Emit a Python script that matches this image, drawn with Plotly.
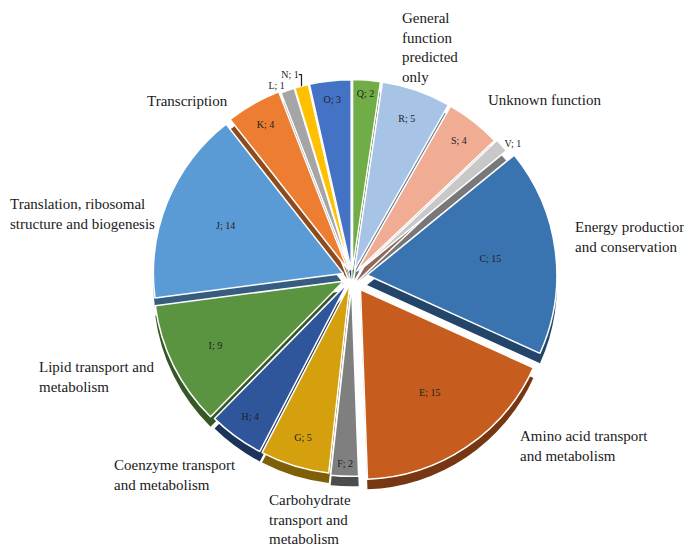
import plotly.graph_objects as go

# COG categories and counts
cats = ["C", "E", "F", "G", "H", "I", "J", "K", "L", "N", "O", "Q", "R", "S", "V"]
counts = [15, 15, 2, 5, 4, 9, 14, 4, 1, 1, 3, 2, 5, 4, 1]
names = {
    "C": "Energy production<br>and conservation",
    "E": "Amino acid transport<br>and metabolism",
    "G": "Carbohydrate<br>transport and<br>metabolism",
    "H": "Coenzyme transport<br>and metabolism",
    "I": "Lipid transport and<br>metabolism",
    "J": "Translation, ribosomal<br>structure and biogenesis",
    "K": "Transcription",
    "R": "General<br>function<br>predicted<br>only",
    "S": "Unknown function",
}

colors = ["#3a74b0", "#c65d1e", "#7f7f7f", "#d4a00e", "#2f559a", "#5a9440",
          "#5b9bd5", "#ed7d31", "#a5a5a5", "#ffc000", "#4472c4", "#70ad47",
          "#a7c3e6", "#f0ad93", "#c8c8c8"]
pulls = [0.08, 0.08, 0.05, 0.04, 0.04, 0.05, 0.05, 0.05, 0.04, 0.04, 0.04,
         0.04, 0.04, 0.04, 0.05]
txtpos = ["outside" if c in ("L", "N", "V") else "inside" for c in cats]

FONT = "Liberation Serif, Times New Roman, serif"


def darker(h, f=0.6):
    h = h.lstrip("#")
    r, g, b = (int(h[i:i + 2], 16) for i in (0, 2, 4))
    return "#%02x%02x%02x" % (int(r * f), int(g * f), int(b * f))


W, H = 692, 549
OFF = 8  # page body margin shifts the figure by this much
cx, cy, half = 352 - OFF, 277 - OFF, 205
depth = 10

# start angle so that Q begins at 12 o'clock
start = 360 * sum(counts[:cats.index("Q")]) / sum(counts)
rot = 360 - start

def dom(dy=0):
    return dict(x=[(cx - half) / W, (cx + half) / W],
                y=[1 - (cy + half + dy) / H, 1 - (cy - half + dy) / H])

fig = go.Figure()

# darker copy below to fake the 3D side
fig.add_trace(go.Pie(
    labels=cats, values=counts, sort=False, direction="clockwise",
    rotation=rot, pull=pulls, domain=dom(depth),
    marker=dict(colors=[darker(c) for c in colors], line=dict(width=0)),
    textinfo="none", hoverinfo="skip", showlegend=False,
))

fig.add_trace(go.Pie(
    labels=cats, values=counts, sort=False, direction="clockwise",
    rotation=rot, pull=pulls, domain=dom(),
    marker=dict(colors=colors, line=dict(color="white", width=1.5)),
    texttemplate="%{label}; %{value}", textposition=txtpos,
    insidetextorientation="horizontal",
    textfont=dict(family=FONT, size=10, color="#222222"),
    showlegend=False,
))

# category name labels (pixel positions of the text boxes, top-left)
label_pos = {
    "R": (400, 0), "S": (486, 90), "K": (145, 91), "J": (0, 194),
    "C": (573, 217), "I": (37, 357), "E": (518, 426), "H": (112, 455),
    "G": (267, 490),
}
for c, (px, py) in label_pos.items():
    fig.add_annotation(
        x=max(px - OFF, 0) / W, y=1 - max(py - OFF, 0) / H,
        xref="paper", yref="paper",
        xanchor="left", yanchor="top", align="left", showarrow=False,
        text=names[c],
        font=dict(family=FONT, size=15, color="#1a1a1a"),
    )

fig.update_layout(
    width=W, height=H,
    margin=dict(l=0, r=0, t=0, b=0),
    paper_bgcolor="white", plot_bgcolor="white",
    uniformtext=dict(minsize=10, mode="show"),
)

fig.write_html("out.html")
